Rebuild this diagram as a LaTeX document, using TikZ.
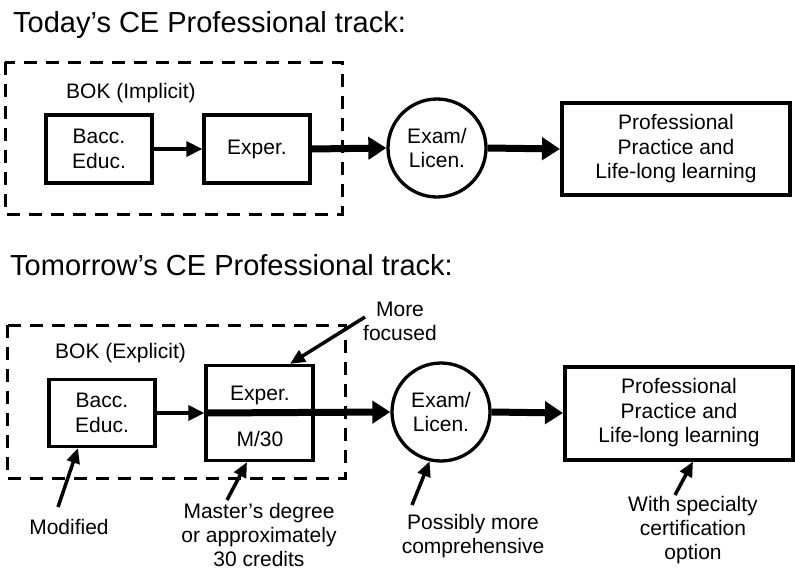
\documentclass[tikz,border=0pt]{standalone}
\usepackage{fontspec}
\setmainfont{Liberation Sans}
\usetikzlibrary{arrows.meta}
\newcommand\bodyfs{\fontsize{21}{24.5}\selectfont}
\newcommand\labelfs{\fontsize{21}{23.8}\selectfont}
\newcommand\titlefs{\fontsize{29}{33}\selectfont}
\begin{document}
\begin{tikzpicture}[x=1pt,y=-1pt,
  box/.style={draw,line width=3.3pt,minimum width=106pt,minimum height=68pt,inner sep=0pt,align=center,font=\bodyfs},
  profbox/.style={draw,line width=4pt,minimum width=228pt,minimum height=92pt,inner sep=0pt,align=center,font=\bodyfs},
  exam/.style={draw,circle,line width=3.3pt,minimum size=98pt,inner sep=0pt,align=center,font=\bodyfs},
  lbl/.style={inner sep=0pt,align=center,font=\labelfs},
  ttl/.style={inner sep=0pt,anchor=base west,font=\titlefs},
  frame/.style={line width=3pt,dash pattern=on 13pt off 9pt},
  thin/.style={line width=3.5pt,-{Triangle[length=16pt,width=15pt]}},
  thick/.style={line width=7pt,-{Triangle[length=18pt,width=22pt]}},
  note/.style={line width=3.5pt,-{Triangle[length=15pt,width=13pt]}}]
\useasboundingbox (0,0) rectangle (795,573);

% ---------- Today ----------
\node[ttl] (t1) at (13,32) {Today’s CE Professional track:};
\draw[frame] (5,62) rectangle (342,214);
\node[lbl,font=\bodyfs,anchor=base west] (bok1) at (66,98) {BOK (Implicit)};
\node[box] (bacc1) at (99,149) {Bacc.\\Educ.};
\node[box] (exp1) at (257,149) {Exper.};
\node[exam] (exam1) at (437,148) {Exam/\\Licen.};
\node[profbox] (prof1) at (676,149) {Professional\\Practice and\\Life-long learning};
\draw[thin] (bacc1.east) -- (exp1.west);
\draw[thick] (exp1.east) -- (exam1.west);
\draw[thick] (exam1.east) -- (prof1.west);

% ---------- Tomorrow ----------
\node[ttl] (t2) at (10,275) {Tomorrow’s CE Professional track:};
\draw[frame] (7,325) rectangle (345,478);
\node[lbl,font=\bodyfs,anchor=base west] (bok2) at (55,358) {BOK (Explicit)};
\node[box,minimum height=67pt] (bacc2) at (102,413) {Bacc.\\Educ.};
\node[box,minimum width=107pt,minimum height=95pt] (exp2) at (259.5,413) {};
\node[lbl,font=\bodyfs] (exptxt) at (260,395) {Exper.};
\node[lbl,font=\bodyfs] (m30) at (260,439) {M/30};
\node[exam] (exam2) at (441,412) {Exam/\\Licen.};
\node[profbox,minimum height=93pt] (prof2) at (679,413) {Professional\\Practice and\\Life-long learning};
\draw[thin] (bacc2.east) -- (exp2.west);
\draw[thick] (exp2.west) -- (exam2.west);
\draw[thick] (exam2.east) -- (prof2.west);

% annotations
\node[lbl] (mf) at (400,321) {More\\focused};
\coordinate (mft) at (365,317);
\draw[note] (mft) -- ([xshift=30.5pt]exp2.north);

\node[lbl] (mod) at (69,527) {Modified};
\coordinate (modt) at (58,507);
\draw[note] (modt) -- ([xshift=-24pt]bacc2.south);

\node[lbl] (ms) at (259,535) {Master’s degree\\or approximately\\30 credits};
\coordinate (mst) at (227,500);
\draw[note] (mst) -- ([xshift=-12.5pt]exp2.south);

\node[lbl] (pm) at (473,536) {Possibly more\\comprehensive};
\coordinate (pmt) at (412,505);
\draw[note] (pmt) -- (exam2.257);

\node[lbl] (ws) at (693,530) {With specialty\\certification\\option};
\coordinate (wst) at (675,495);
\draw[note] (wst) -- ([xshift=14pt]prof2.south);
\end{tikzpicture}
\end{document}
